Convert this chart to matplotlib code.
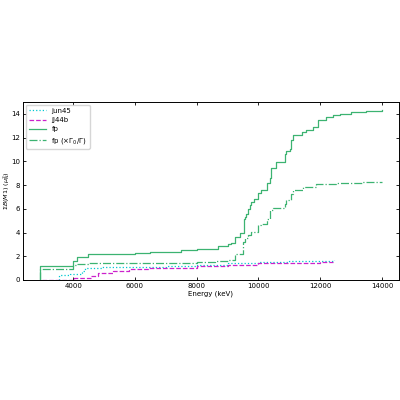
import matplotlib
matplotlib.use("Agg")
import matplotlib.pyplot as plt
import numpy as np

# cumulative B(M1) step data (energy keV, cumulative value)
fp_E = [2930, 2930, 4000, 4130, 4480, 5000, 5500, 6000, 6500, 7000, 7500, 8000,
        8700, 9000, 9100, 9250, 9390, 9530, 9560, 9600, 9650, 9720, 9770, 9850,
        9990, 10100, 10290, 10370, 10420, 10580, 10850, 10910, 11010, 11070,
        11120, 11420, 11550, 11770, 11930, 12200, 12420, 12640, 13000, 13500, 14000]
fp_B = [0.0, 1.2, 1.6, 1.95, 2.15, 2.18, 2.22, 2.25, 2.32, 2.4, 2.5, 2.6,
        2.9, 3.0, 3.08, 3.64, 3.98, 5.1, 5.35, 5.6, 6.0, 6.3, 6.6, 6.8,
        7.3, 7.6, 8.2, 8.6, 9.44, 9.94, 10.65, 10.85, 11.07, 11.76,
        12.18, 12.46, 12.6, 12.88, 13.5, 13.7, 13.87, 14.0, 14.15, 14.28, 14.35]

fpg_E = [2930, 2930, 4000, 4100, 4500, 6000, 8000, 8600, 9000, 9230, 9500, 9550,
         9660, 9770, 9985, 10090, 10290, 10360, 10470, 10850, 10900, 11070, 11120,
         11450, 11880, 12500, 13340, 14000]
fpg_B = [0.0, 0.92, 1.26, 1.38, 1.42, 1.45, 1.5, 1.6, 1.7, 2.2, 3.2, 3.5,
         3.78, 4.06, 4.62, 4.76, 5.18, 5.88, 6.1, 6.44, 6.72, 7.28, 7.56,
         7.84, 8.12, 8.18, 8.23, 8.23]

jun_E = [3550, 3550, 3900, 4300, 4400, 4950, 6000, 7000, 8000, 9000, 10000, 11000, 12000, 12450]
jun_B = [0.0, 0.4, 0.5, 0.75, 1.0, 1.08, 1.12, 1.2, 1.3, 1.4, 1.5, 1.57, 1.63, 1.67]

jj_E = [3000, 4030, 4575, 4790, 5280, 5820, 6410, 7000, 8000, 9000, 10000, 11000, 12000, 12400]
jj_B = [0.03, 0.2, 0.34, 0.62, 0.78, 0.89, 0.98, 1.05, 1.2, 1.3, 1.4, 1.47, 1.53, 1.55]

labels = ["jun45", "jj44b", "fp", r"fp ($\times\Gamma_0/\Gamma$)"]

plt.rcParams['font.size'] = 5
fig = plt.figure(figsize=(4, 4), dpi=100)
ax = fig.add_axes([0.0575, 0.30, 0.94, 0.445])

ax.plot(jun_E, jun_B, drawstyle='steps-post', ls=':', color='#00c8d2', lw=0.9, label=labels[0])
ax.plot(jj_E, jj_B, drawstyle='steps-post', ls='--', color='#cc22cc', lw=0.9, label=labels[1])
ax.plot(fp_E, fp_B, drawstyle='steps-post', ls='-', color='#3cb371', lw=0.9, label=labels[2])
ax.plot(fpg_E, fpg_B, drawstyle='steps-post', ls='-.', color='#3cb371', lw=0.9, label=labels[3])

ax.set_ylim(0, 15)
ax.set_xticks([4000, 6000, 8000, 10000, 12000, 14000])
ax.set_yticks([0, 2, 4, 6, 8, 10, 12, 14])
ax.tick_params(direction='in', top=True, right=True, length=2.5, width=0.6, labelsize=5, pad=2)
for s in ax.spines.values():
    s.set_linewidth(0.7)
ax.set_xlabel("Energy (keV)", fontsize=5, labelpad=1)
ax.set_ylabel(r"$\Sigma B(M1)$ ($\mu_N^2$)", fontsize=4.6)
ax.yaxis.set_label_coords(-0.028, 0.5)
ax.legend(loc='upper left', fontsize=5, handlelength=2.5, borderaxespad=0.4, framealpha=0.8)

fig.savefig("out.png", dpi=100)
